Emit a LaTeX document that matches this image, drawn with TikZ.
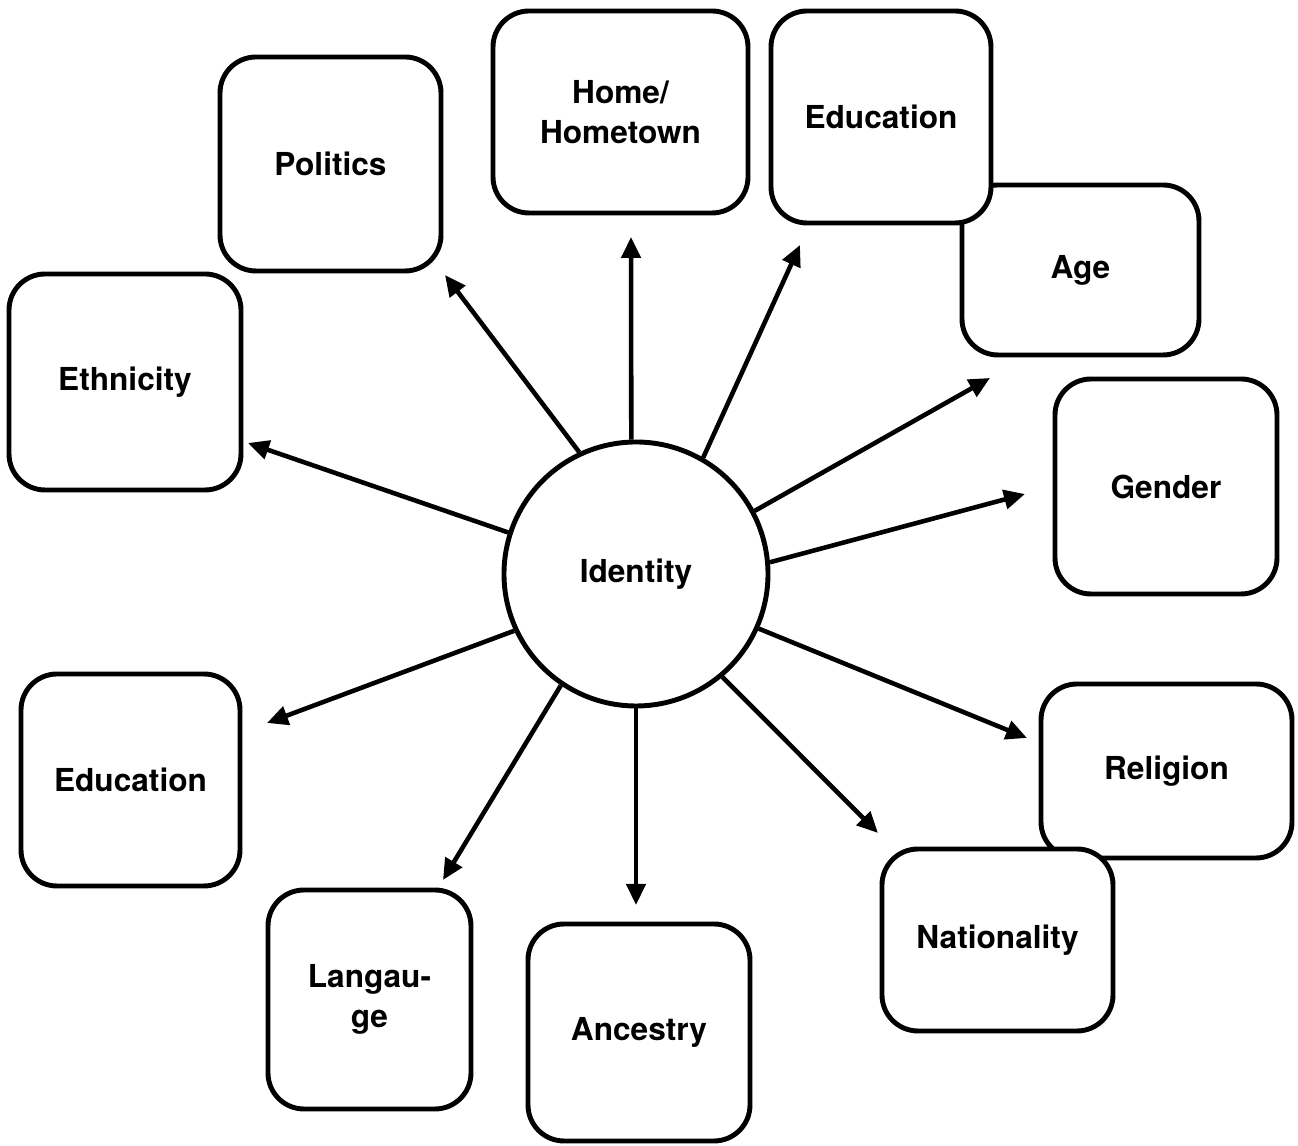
\documentclass[tikz,border=0pt]{standalone}
\usepackage{fontspec}
\setmainfont{TeX Gyre Heros}
\usetikzlibrary{arrows.meta}

\tikzset{
    topic/.style={draw, line width=1.4pt, rounded corners=0.36cm, fill=white,
        align=center, font=\bfseries\fontsize{9}{11.4}\selectfont, inner sep=0pt},
    hub/.style={draw, circle, line width=1.4pt, fill=white, minimum size=2.64cm,
        font=\bfseries\fontsize{9}{11.4}\selectfont},
    link/.style={line width=1.3pt, -{Triangle[length=0.21cm,width=0.19cm]}}
}

\begin{document}
\begin{tikzpicture}
    \useasboundingbox (0,0) rectangle (12.98,11.46);

    % boxes (lower ones first where they overlap)
    \node[topic, minimum width=2.21cm, minimum height=2.14cm] (politics) at (3.305,9.82) {Politics};
    \node[topic, minimum width=2.55cm, minimum height=2.02cm] (home) at (6.205,10.34) {Home/\\Hometown};
    \node[topic, minimum width=2.37cm, minimum height=1.70cm] (age) at (10.805,8.76) {Age};
    \node[topic, minimum width=2.20cm, minimum height=2.12cm] (edutop) at (8.81,10.29) {Education};
    \node[topic, minimum width=2.32cm, minimum height=2.16cm] (ethnicity) at (1.25,7.64) {Ethnicity};
    \node[topic, minimum width=2.22cm, minimum height=2.15cm] (gender) at (11.66,6.595) {Gender};
    \node[topic, minimum width=2.19cm, minimum height=2.12cm] (eduleft) at (1.305,3.66) {Education};
    \node[topic, minimum width=2.51cm, minimum height=1.74cm] (religion) at (11.665,3.75) {Religion};
    \node[topic, minimum width=2.31cm, minimum height=1.82cm] (nationality) at (9.975,2.06) {Nationality};
    \node[topic, minimum width=2.03cm, minimum height=2.19cm] (language) at (3.695,1.465) {Langau-\\ge};
    \node[topic, minimum width=2.22cm, minimum height=2.17cm] (ancestry) at (6.39,1.135) {Ancestry};

    \node[hub] (identity) at (6.36,5.72) {Identity};

    % arrow tips
    \coordinate (tpolitics) at (4.45,8.71);
    \coordinate (thome) at (6.31,9.09);
    \coordinate (tedutop) at (8.00,9.01);
    \coordinate (tage) at (9.90,7.68);
    \coordinate (tgender) at (10.25,6.52);
    \coordinate (treligion) at (10.27,4.08);
    \coordinate (tnationality) at (8.78,3.13);
    \coordinate (tancestry) at (6.36,2.41);
    \coordinate (tlanguage) at (4.43,2.66);
    \coordinate (teduleft) at (2.67,4.23);
    \coordinate (tethnicity) at (2.48,7.03);

    \draw[link] (identity.115.6) -- (tpolitics);
    \draw[link] (identity.92) -- (thome);
    \draw[link] (identity.60.3) -- (tedutop);
    \draw[link] (identity.28.7) -- (tage);
    \draw[link] (identity.5) -- (tgender);
    \draw[link] (identity.-24) -- (treligion);
    \draw[link] (identity.-50.3) -- (tnationality);
    \draw[link] (identity.-90) -- (tancestry);
    \draw[link] (identity.-124.9) -- (tlanguage);
    \draw[link] (identity.205.4) -- (teduleft);
    \draw[link] (identity.162.5) -- (tethnicity);
\end{tikzpicture}
\end{document}
